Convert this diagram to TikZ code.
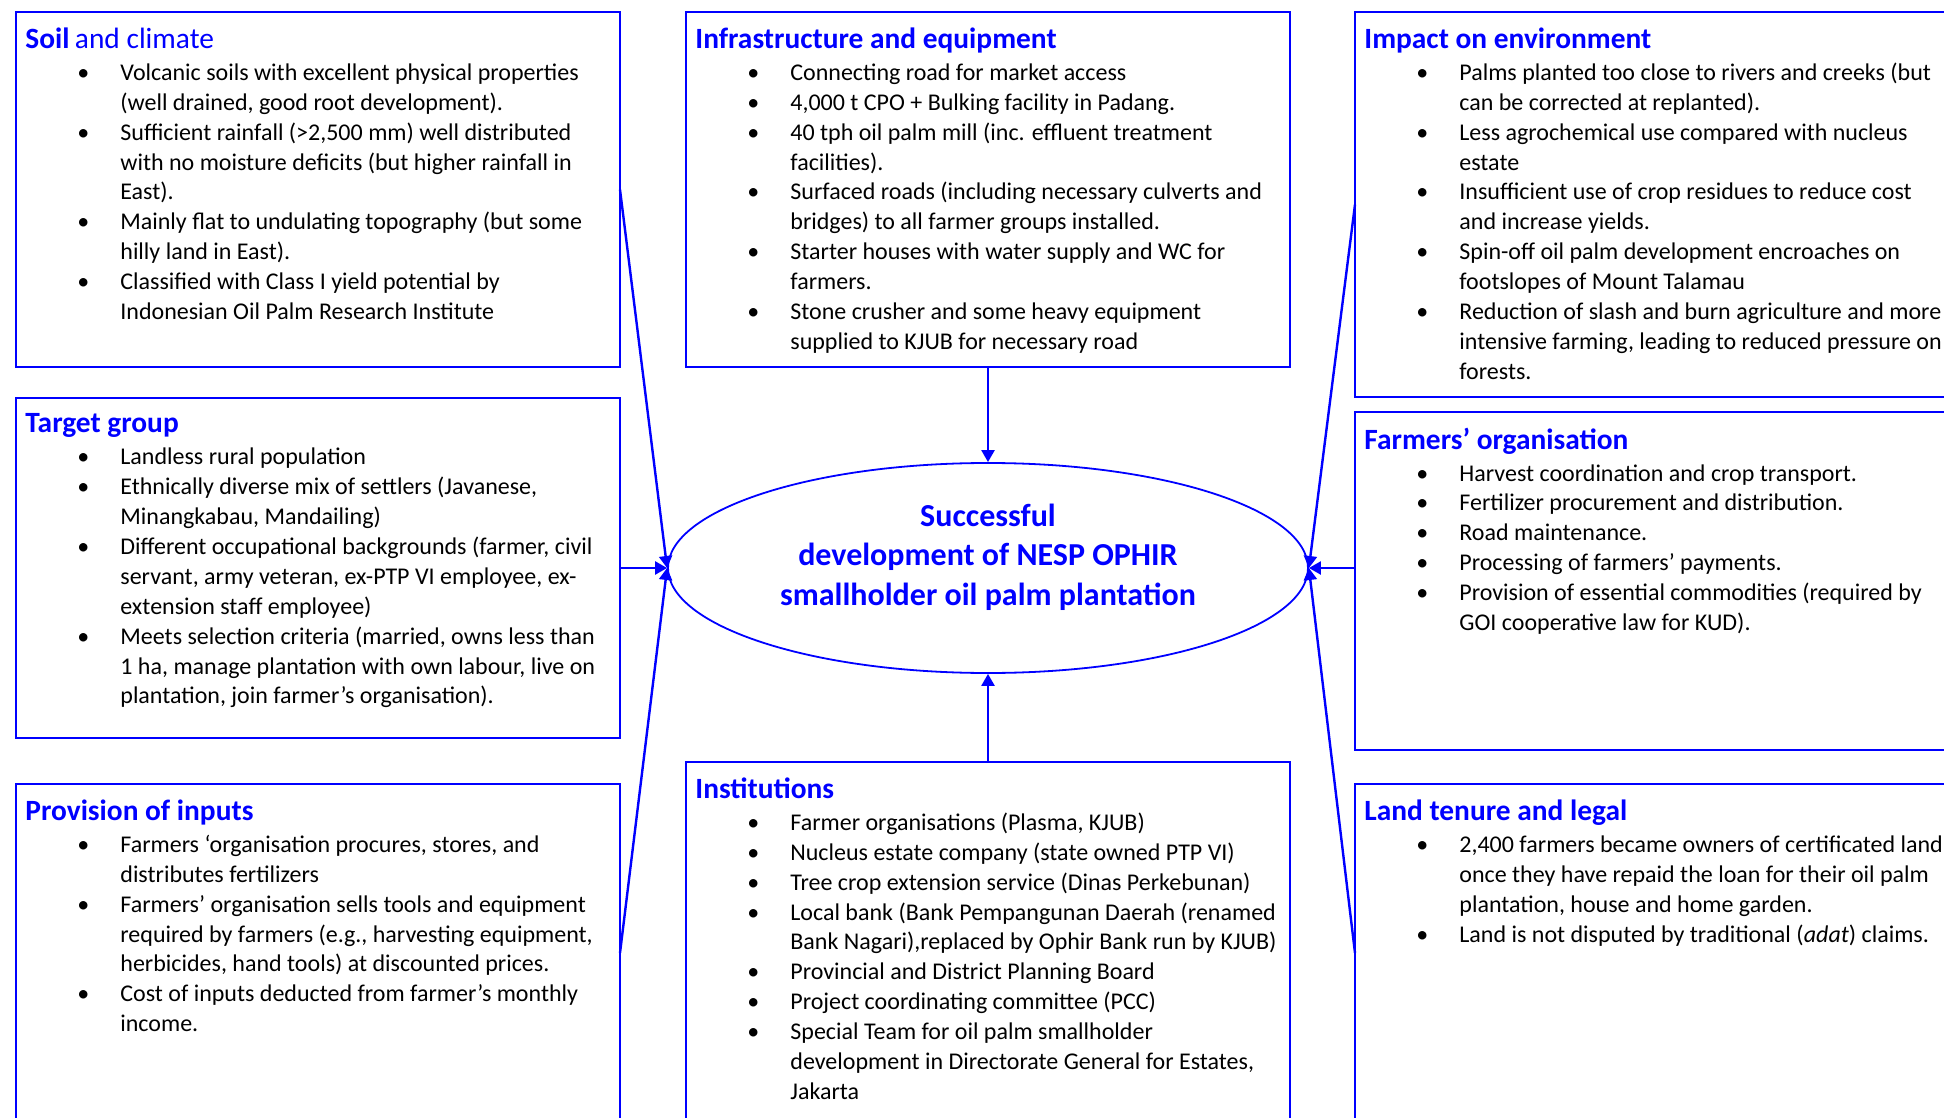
\documentclass[tikz,border=0pt]{standalone}
\usepackage{fontspec}
\setmainfont{Carlito}
\usepackage{xcolor}
\usepackage{tikz}
\usetikzlibrary{arrows.meta,positioning,shapes.geometric}

\newcommand{\bul}{\makebox[47.5pt][l]{\hspace*{26pt}\textbullet}}
\newcommand{\cnt}{\makebox[47.5pt]{}}
\newcommand{\ttl}[1]{{\fontsize{14.7}{16}\selectfont\bfseries\color{blue}#1}}

\begin{document}
\begin{tikzpicture}[x=0.5pt,y=-0.5pt,>=Triangle,
  infobox/.style={draw=blue,line width=0.9pt,inner sep=0pt,outer sep=0pt,
    minimum width=302pt,anchor=north west},
  txt/.style={align=left,inner sep=0pt,font=\fontsize{12}{14.95}\selectfont},
  conn/.style={blue,line width=1.2pt,-{Triangle[length=6pt,width=6.5pt]}}]
  \useasboundingbox (0,0) rectangle (1944,1118);
  \clip (0,0) rectangle (1944,1118);
  % boxes, left column
  \node[infobox,minimum height=177.5pt] (soil) at (16,12) {};
  \node[infobox,minimum height=170pt] (target) at (16,398) {};
  \node[infobox,minimum height=169pt] (inputs) at (16,784) {};
  % boxes, middle column
  \node[infobox,minimum height=177.5pt] (infra) at (686,12) {};
  \node[infobox,minimum height=190pt] (inst) at (686,762) {};
  % boxes, right column
  \node[infobox,minimum height=192.5pt] (impact) at (1355,12) {};
  \node[infobox,minimum height=169pt] (farmorg) at (1355,412) {};
  \node[infobox,minimum height=169pt] (land) at (1355,784) {};
  % centre
  \node[ellipse,draw=blue,line width=0.9pt,minimum width=320pt,minimum height=105pt] (goal) at (988,568) {};
  \node[align=center,text=blue,font=\fontsize{16}{19.8}\selectfont\bfseries] (goaltxt) at (988,557)
    {Successful\\ development of NESP OPHIR\\ smallholder oil palm plantation};
  % texts
  \node[txt,below right=7.7pt and 4.5pt of soil.north west] (soiltxt) {%
    \ttl{Soil} {\fontsize{14.7}{16}\selectfont\color{blue}and climate}\\[1pt]
    \bul Volcanic soils with excellent physical properties\\
    \cnt (well drained, good root development).\\
    \bul Sufficient rainfall (>2,500 mm) well distributed\\
    \cnt with no moisture deficits (but higher rainfall in\\
    \cnt East).\\
    \bul Mainly flat to undulating topography (but some\\
    \cnt hilly land in East).\\
    \bul Classified with Class I yield potential by\\
    \cnt Indonesian Oil Palm Research Institute};
  \node[txt,below right=7.7pt and 4.5pt of target.north west] (targettxt) {%
    \ttl{Target group}\\[1pt]
    \bul Landless rural population\\
    \bul Ethnically diverse mix of settlers (Javanese,\\
    \cnt Minangkabau, Mandailing)\\
    \bul Different occupational backgrounds (farmer, civil\\
    \cnt servant, army veteran, ex-PTP VI employee, ex-\\
    \cnt extension staff employee)\\
    \bul Meets selection criteria (married, owns less than\\
    \cnt 1 ha, manage plantation with own labour, live on\\
    \cnt plantation, join farmer’s organisation).};
  \node[txt,below right=7.7pt and 4.5pt of inputs.north west] (inputstxt) {%
    \ttl{Provision of inputs}\\[1pt]
    \bul Farmers ‘organisation procures, stores, and\\
    \cnt distributes fertilizers\\
    \bul Farmers’ organisation sells tools and equipment\\
    \cnt required by farmers (e.g., harvesting equipment,\\
    \cnt herbicides, hand tools) at discounted prices.\\
    \bul Cost of inputs deducted from farmer’s monthly\\
    \cnt income.};
  \node[txt,below right=7.7pt and 4.5pt of infra.north west] (infratxt) {%
    \ttl{Infrastructure and equipment}\\[1pt]
    \bul Connecting road for market access\\
    \bul 4,000 t CPO + Bulking facility in Padang.\\
    \bul 40 tph oil palm mill (inc. effluent treatment\\
    \cnt facilities).\\
    \bul Surfaced roads (including necessary culverts and\\
    \cnt bridges) to all farmer groups installed.\\
    \bul Starter houses with water supply and WC for\\
    \cnt farmers.\\
    \bul Stone crusher and some heavy equipment\\
    \cnt supplied to KJUB for necessary road};
  \node[txt,below right=7.7pt and 4.5pt of inst.north west] (insttxt) {%
    \ttl{Institutions}\\[1pt]
    \bul Farmer organisations (Plasma, KJUB)\\
    \bul Nucleus estate company (state owned PTP VI)\\
    \bul Tree crop extension service (Dinas Perkebunan)\\
    \bul Local bank (Bank Pempangunan Daerah (renamed\\
    \cnt Bank Nagari),replaced by Ophir Bank run by KJUB)\\
    \bul Provincial and District Planning Board\\
    \bul Project coordinating committee (PCC)\\
    \bul Special Team for oil palm smallholder\\
    \cnt development in Directorate General for Estates,\\
    \cnt Jakarta};
  \node[txt,below right=7.7pt and 4.5pt of impact.north west] (impacttxt) {%
    \ttl{Impact on environment}\\[1pt]
    \bul Palms planted too close to rivers and creeks (but\\
    \cnt can be corrected at replanted).\\
    \bul Less agrochemical use compared with nucleus\\
    \cnt estate\\
    \bul Insufficient use of crop residues to reduce cost\\
    \cnt and increase yields.\\
    \bul Spin-off oil palm development encroaches on\\
    \cnt footslopes of Mount Talamau\\
    \bul Reduction of slash and burn agriculture and more\\
    \cnt intensive farming, leading to reduced pressure on\\
    \cnt forests.};
  \node[txt,below right=7.7pt and 4.5pt of farmorg.north west] (farmorgtxt) {%
    \ttl{Farmers’ organisation}\\[1pt]
    \bul Harvest coordination and crop transport.\\
    \bul Fertilizer procurement and distribution.\\
    \bul Road maintenance.\\
    \bul Processing of farmers’ payments.\\
    \bul Provision of essential commodities (required by\\
    \cnt GOI cooperative law for KUD).};
  \node[txt,below right=7.7pt and 4.5pt of land.north west] (landtxt) {%
    \ttl{Land tenure and legal}\\[1pt]
    \bul 2,400 farmers became owners of certificated land\\
    \cnt once they have repaid the loan for their oil palm\\
    \cnt plantation, house and home garden.\\
    \bul Land is not disputed by traditional (\textit{adat}) claims.};
  % connectors
  \draw[conn] (soil.east) -- (goal.west);
  \draw[conn] (target.east) -- (goal.west);
  \draw[conn] (inputs.east) -- (goal.west);
  \draw[conn] (infra.south) -- (goal.north);
  \draw[conn] (inst.north) -- (goal.south);
  \draw[conn] (impact.west) -- (goal.east);
  \draw[conn] (goal.east -| farmorg.west) -- (goal.east);
  \draw[conn] (land.west) -- (goal.east);
\end{tikzpicture}
\end{document}
